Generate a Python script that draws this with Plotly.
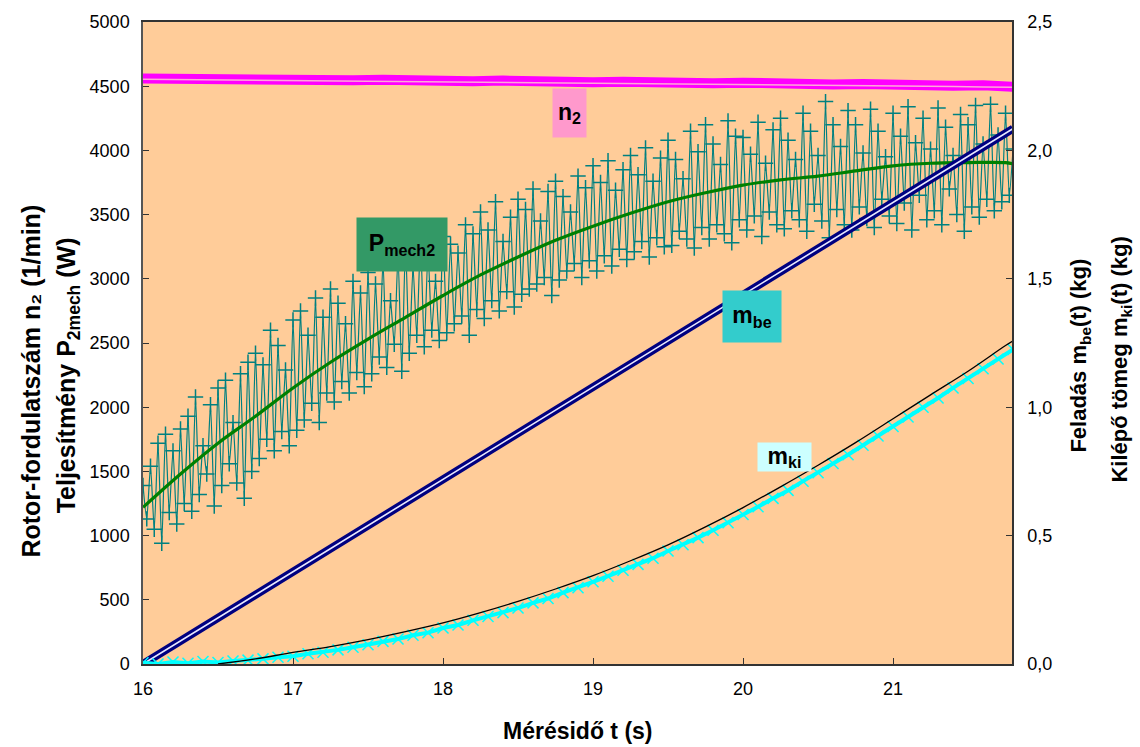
import numpy as np
import plotly.graph_objects as go

# ---- measured power P2mech (W), sampled every 0.025 s from t = 16.0 s ----
p_t0, p_dt = 16.0, 0.025
p_mech = [
    1390, 1130, 1540, 1050, 1720, 940, 1790, 1180, 1660, 1090,
    1830, 1250, 1930, 1190, 2080, 1320, 1700, 1480, 2020, 1230,
    2150, 1390, 2210, 1560, 1880, 1410, 2260, 1290, 2350, 1500,
    2420, 1600, 2330, 1750, 2600, 1660, 2480, 1810, 2290, 1700,
    2680, 1820, 2750, 1900, 2560, 2030, 2850, 1880, 2700, 2110,
    2920, 2040, 2810, 2200, 2650, 2110, 2980, 2270, 2890, 2160,
    3050, 2260, 2960, 2390, 3140, 2310, 2830, 2490, 3180, 2280,
    3260, 2420, 3090, 2560, 3300, 2470, 3210, 2600, 2980, 2520,
    3330, 2580, 3270, 2650, 3200, 2710, 3420, 2560, 3350, 2760,
    3520, 2690, 3380, 2830, 3600, 2750, 3290, 2900, 3480, 2780,
    3620, 2880, 3540, 2920, 3700, 2960, 3450, 3010, 3680, 2870,
    3760, 2990, 3640, 3060, 3520, 3120, 3800, 3010, 3710, 3140,
    3880, 3060, 3750, 3180, 3920, 3100, 3690, 3230, 3850, 3150,
    3960, 3210, 3810, 3290, 4020, 3170, 3760, 3320, 3940, 3250,
    4080, 3260, 3930, 3370, 3780, 3310, 4150, 3240, 3990, 3400,
    4200, 3310, 4050, 3420, 3890, 3350, 4230, 3280, 4110, 3460,
    4100, 3380, 3970, 3490, 4220, 3330, 3900, 3520, 4160, 3420,
    4250, 3390, 4080, 3530, 3930, 3460, 4290, 3370, 4150, 3580,
    3960, 3450, 4380, 3320, 4200, 3540, 4030, 3420, 4310, 3380,
    4200, 3560, 3980, 3470, 4320, 3400, 4150, 3620, 3950, 3490,
    4290, 3430, 4110, 3590, 4340, 3380, 4060, 3650, 4250, 3460,
    4010, 3530, 4330, 3420, 4180, 3700, 3960, 3500, 4280, 3370,
    4200, 3560, 4350, 3480, 4050, 3620, 4360, 3530, 4120, 3600,
    4290, 3650, 4010,
]
p_time = [round(p_t0 + i * p_dt, 3) for i in range(len(p_mech))]

# ---- smoothed power trend (W) ----
trend_time = [16.0, 16.25, 16.5, 16.75, 17.0, 17.25, 17.5, 17.75, 18.0, 18.25,
              18.5, 18.75, 19.0, 19.25, 19.5, 19.75, 20.0, 20.25, 20.5, 20.75,
              21.0, 21.25, 21.5, 21.75, 21.8]
p_trend = [1220, 1480, 1720, 1930, 2150, 2350, 2530, 2700, 2870, 3030,
           3170, 3300, 3410, 3510, 3600, 3670, 3730, 3770, 3800, 3840,
           3880, 3900, 3905, 3905, 3895]

# ---- rotor speed n2 (1/min), every 0.2 s ----
n2_time = [16.0, 16.2, 16.4, 16.6, 16.8, 17.0, 17.2, 17.4, 17.6, 17.8,
           18.0, 18.2, 18.4, 18.6, 18.8, 19.0, 19.2, 19.4, 19.6, 19.8,
           20.0, 20.2, 20.4, 20.6, 20.8, 21.0, 21.2, 21.4, 21.6, 21.8]
n2_meas = [4560, 4556, 4562, 4553, 4558, 4549, 4555, 4546, 4551, 4542,
           4547, 4539, 4544, 4536, 4540, 4531, 4535, 4527, 4532, 4523,
           4527, 4519, 4523, 4514, 4518, 4509, 4513, 4503, 4507, 4496]
n2_fit = [4555, 4553, 4551, 4549, 4547, 4544, 4542, 4540, 4538, 4536,
          4534, 4532, 4529, 4527, 4525, 4523, 4521, 4518, 4516, 4514,
          4512, 4510, 4508, 4505, 4503, 4501, 4499, 4497, 4494, 4492]

# ---- feed mass m_be (kg), every 0.2 s ----
mbe_time = n2_time
m_be = [0.000, 0.072, 0.144, 0.216, 0.288, 0.360, 0.432, 0.504, 0.575, 0.647,
        0.719, 0.791, 0.863, 0.935, 1.007, 1.079, 1.150, 1.222, 1.294, 1.366,
        1.438, 1.510, 1.582, 1.654, 1.726, 1.798, 1.870, 1.942, 2.013, 2.085]

# ---- discharged mass m_ki (kg), measured every 0.1 s ----
mki_time = [round(16.0 + 0.1 * i, 1) for i in range(59)]
m_ki = [0.005, 0.000, 0.008, 0.003, 0.010, 0.006, 0.012, 0.015, 0.020, 0.026,
        0.030, 0.040, 0.046, 0.055, 0.065, 0.075, 0.088, 0.097, 0.112, 0.122,
        0.140, 0.152, 0.170, 0.185, 0.200, 0.218, 0.238, 0.255, 0.278, 0.297,
        0.320, 0.342, 0.365, 0.388, 0.412, 0.440, 0.464, 0.492, 0.521, 0.550,
        0.582, 0.612, 0.645, 0.676, 0.712, 0.745, 0.781, 0.815, 0.852, 0.888,
        0.925, 0.962, 1.000, 1.036, 1.075, 1.112, 1.150, 1.188, 1.225]

# ---- fitted m_ki curve (kg) ----
mki_fit_time = [16.5, 16.75, 17.0, 17.25, 17.5, 17.75, 18.0, 18.25, 18.5, 18.75,
                19.0, 19.25, 19.5, 19.75, 20.0, 20.25, 20.5, 20.75, 21.0, 21.25,
                21.5, 21.75, 21.8]
mki_fit = [0.000, 0.020, 0.045, 0.068, 0.095, 0.126, 0.160, 0.200, 0.244, 0.292,
           0.344, 0.402, 0.464, 0.534, 0.609, 0.690, 0.774, 0.862, 0.955, 1.048,
           1.140, 1.240, 1.258]

x_ticks = [16, 17, 18, 19, 20, 21]

FONT = "Liberation Sans, Arial, sans-serif"

fig = go.Figure()

fig.add_trace(go.Scatter(
    x=p_time, y=p_mech, mode="lines+markers",
    line=dict(color="#008080", width=1.2, shape="spline", smoothing=0.6),
    marker=dict(symbol="cross-thin", size=11, line=dict(color="#008080", width=1.5)),
    yaxis="y", showlegend=False, hoverinfo="skip"))
fig.add_trace(go.Scatter(
    x=trend_time, y=p_trend, mode="lines",
    line=dict(color="#008000", width=3.2, shape="spline"),
    yaxis="y", showlegend=False, hoverinfo="skip"))
fig.add_trace(go.Scatter(
    x=n2_time, y=n2_meas, mode="lines",
    line=dict(color="#FF00FF", width=10),
    yaxis="y", showlegend=False, hoverinfo="skip"))
fig.add_trace(go.Scatter(
    x=n2_time, y=n2_fit, mode="lines",
    line=dict(color="#FFA8D8", width=1.5),
    yaxis="y", showlegend=False, hoverinfo="skip"))

fig.add_trace(go.Scatter(
    x=mbe_time, y=m_be, mode="lines",
    line=dict(color="#000080", width=8),
    yaxis="y2", showlegend=False, hoverinfo="skip"))
fig.add_trace(go.Scatter(
    x=mbe_time, y=m_be, mode="lines",
    line=dict(color="#E8E8FF", width=1.6),
    yaxis="y2", showlegend=False, hoverinfo="skip"))
fig.add_trace(go.Scatter(
    x=mki_time, y=m_ki, mode="lines+markers",
    line=dict(color="#00FFFF", width=4),
    marker=dict(symbol="x-thin", size=11, line=dict(color="#00FFFF", width=1.5)),
    yaxis="y2", showlegend=False, hoverinfo="skip"))
fig.add_trace(go.Scatter(
    x=mki_fit_time, y=mki_fit, mode="lines",
    line=dict(color="#000000", width=1.3, shape="spline"),
    yaxis="y2", showlegend=False, hoverinfo="skip"))

tick_font = dict(family=FONT, size=18, color="#000000")
left_title_font = dict(family=FONT, size=25, color="#000000")
right_title_font = dict(family=FONT, size=22, color="#000000")
x_title_font = dict(family=FONT, size=23, color="#000000")
label_font = dict(family=FONT, size=23, color="#000000")

fig.update_layout(
    width=1140, height=747,
    margin=dict(l=143, r=128, t=20, b=83),
    paper_bgcolor="#FFFFFF", plot_bgcolor="#FFCC99",
    separators=", ",
    xaxis=dict(range=[16, 21.793], tickvals=x_ticks, ticks="inside", ticklen=6,
               tickcolor="#333333", showgrid=False, zeroline=False,
               showline=True, linecolor="#333333", linewidth=1.5, mirror=True,
               tickfont=tick_font, ticklabelstandoff=8),
    yaxis=dict(range=[0, 5000], dtick=500, tickformat="d", ticks="inside", ticklen=6,
               tickcolor="#333333", showgrid=False, zeroline=False,
               showline=True, linecolor="#555555", linewidth=1.5,
               tickfont=tick_font, ticklabelstandoff=8),
    yaxis2=dict(range=[0, 2.5], dtick=0.5, tickformat=".1f", overlaying="y",
                side="right", ticks="inside", ticklen=6, tickcolor="#333333",
                showgrid=False, zeroline=False, showline=True,
                linecolor="#333333", linewidth=1.5,
                tickfont=tick_font, ticklabelstandoff=10),
)

annotations = [
    # axis titles
    dict(text="<b>Mérésidő t (s)</b>", xref="paper", yref="paper",
         x=0.5, y=-0.105, yanchor="middle", showarrow=False, font=x_title_font),
    dict(text="<b>Rotor-fordulatszám n₂ (1/min)</b>", xref="paper", yref="paper",
         x=-0.130, xanchor="center", y=0.44, yanchor="middle", textangle=-90,
         showarrow=False, font=left_title_font),
    dict(text="<b>Teljesítmény P<sub>2mech</sub> (W)</b>", xref="paper", yref="paper",
         x=-0.086, xanchor="center", y=0.45, yanchor="middle", textangle=-90,
         showarrow=False, font=left_title_font),
    dict(text="<b>Feladás m<sub>be</sub>(t) (kg)</b>", xref="paper", yref="paper",
         x=1.078, xanchor="center", y=0.48, yanchor="middle", textangle=-90,
         showarrow=False, font=right_title_font),
    dict(text="<b>Kilépő tömeg m<sub>ki</sub>(t) (kg)</b>", xref="paper", yref="paper",
         x=1.126, xanchor="center", y=0.475, yanchor="middle", textangle=-90,
         showarrow=False, font=right_title_font),
    # series labels
    dict(text="<b>n<sub>2</sub></b>", x=18.843, y=4293, xref="x", yref="y",
         showarrow=False, bgcolor="#FF99CC", width=33, height=48, borderpad=0,
         font=label_font),
    dict(text="<b>P<sub>mech2</sub></b>", x=17.727, y=3265, xref="x", yref="y",
         showarrow=False, bgcolor="#339966", width=90, height=53, borderpad=0,
         font=label_font),
    dict(text="<b>m<sub>be</sub></b>", x=20.06, y=2706, xref="x", yref="y",
         showarrow=False, bgcolor="#33CCCC", width=58, height=51, borderpad=0,
         font=label_font),
    dict(text="<b>m<sub>ki</sub></b>", x=20.277, y=1611, xref="x", yref="y",
         showarrow=False, bgcolor="#CCFFFF", width=53, height=28, borderpad=0,
         font=label_font),
]
fig.update_layout(annotations=annotations)

fig.write_html("out.html")
